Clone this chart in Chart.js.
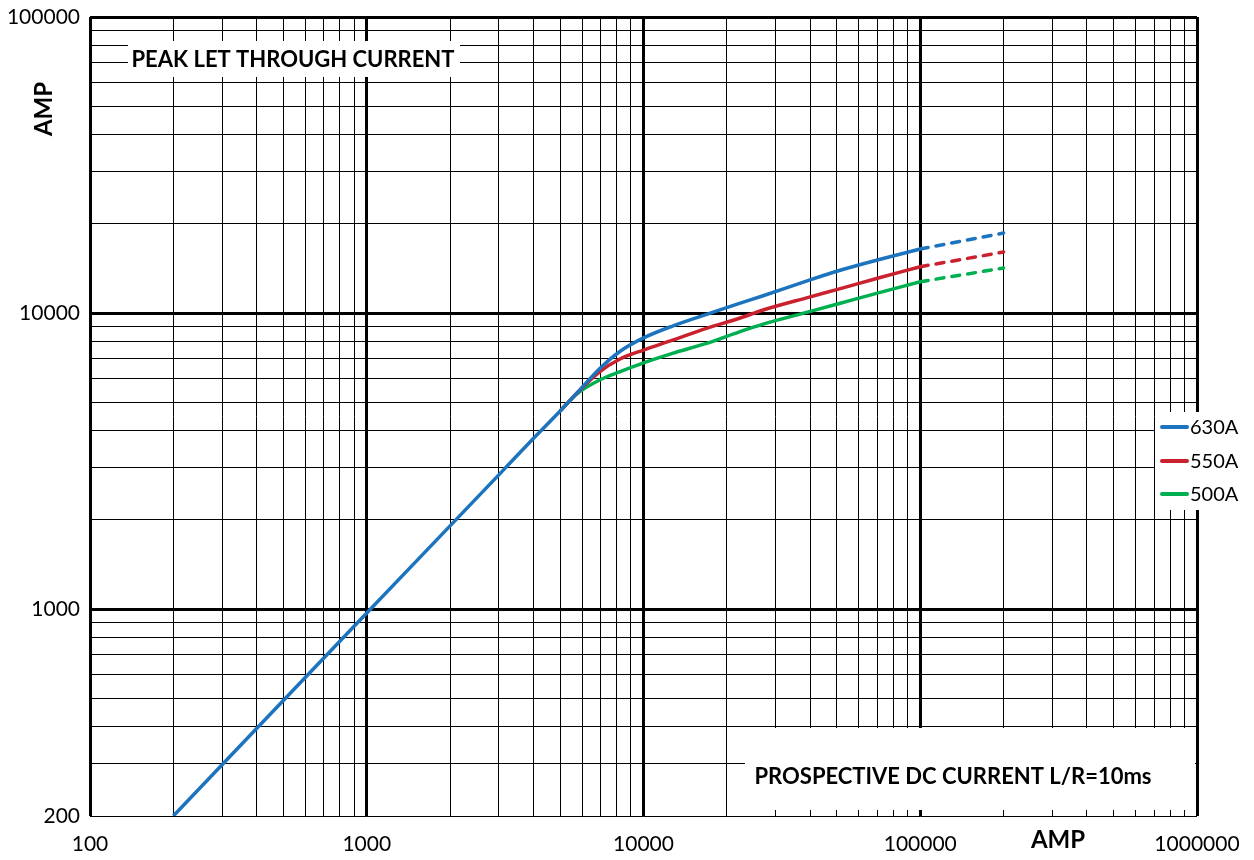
<!DOCTYPE html>
<html><head><meta charset="utf-8">
<script src="https://cdn.jsdelivr.net/npm/chart.js@4/dist/chart.umd.min.js"></script>
<style>html,body{margin:0;padding:0;background:#fff;}#wrap{width:1254px;height:860px;position:relative}</style>
</head><body><div id="wrap"><canvas id="c" width="1254" height="860"></canvas></div>
<script>
// ---- data ----
const xDecades = [100, 1000, 10000, 100000];
const yDecades = [100, 1000, 10000];
const multipliers = [1, 2, 3, 4, 5, 6, 7, 8, 9];
const xTickLabels = ['100', '1000', '10000', '100000', '1000000'];
const yTickLabels = ['200', '1000', '10000', '100000'];
const seriesNames = ['630A', '550A', '500A'];

const blueX = [200, 1000, 2000, 3000, 4000, 5000, 5875, 6940, 8190, 10000, 12730, 17750, 22220, 26890, 39750, 51020, 71110, 100000];
const blueY = [200, 970, 1910, 2840, 3770, 4670, 5490, 6480, 7400, 8240, 9040, 10050, 10780, 11420, 12920, 13920, 15160, 16450];
const redX = [5000, 5800, 6940, 8190, 10000, 12730, 16880, 22220, 26890, 39750, 51020, 71110, 100000];
const redY = [4670, 5410, 6330, 6980, 7500, 8100, 8880, 9600, 10220, 11320, 12070, 13160, 14340];
const greenX = [5000, 5780, 6940, 8190, 10000, 12730, 16880, 22220, 26890, 39750, 51020, 71110, 100000];
const greenY = [4670, 5355, 5940, 6330, 6790, 7310, 7900, 8640, 9160, 10110, 10770, 11720, 12760];
const dashX = [100000, 200000];
const blueDashY = [16450, 18630];
const redDashY = [14340, 16070];
const greenDashY = [12760, 14190];

const seriesColors = ['#1c74bf', '#c9212d', '#00b050'];
const FONT = 'Lato, "Open Sans", sans-serif';

// ---- helpers ----
const pts = (xs, ys) => xs.map((x, i) => ({x, y: ys[i]}));
const xTickValues = xDecades.flatMap(d => multipliers.map(m => d * m)).concat([1000000]);
const yTickValues = yDecades.flatMap(d => multipliers.map(m => d * m)).concat([100000]).filter(v => v >= 200);
const isDecade = v => Math.abs(Math.log10(v) - Math.round(Math.log10(v))) < 1e-9;

function solid(data, color, name) {
  return {label: name, data, borderColor: color, backgroundColor: color, borderWidth: 3.5,
    pointRadius: 0, showLine: true, fill: false, cubicInterpolationMode: 'monotone'};
}
function dashed(data, color) {
  return {label: '', data, borderColor: color, borderWidth: 3.5, pointRadius: 0, showLine: true,
    fill: false, borderDash: [8, 8], borderCapStyle: 'round'};
}

function fitFont(ctx, text, weight, target, start) {
  let s = start;
  ctx.font = weight + ' ' + s + 'px ' + FONT;
  while (ctx.measureText(text).width > target && s > 8) { s -= 0.5; ctx.font = weight + ' ' + s + 'px ' + FONT; }
  return s;
}

const annot = {
  id: 'annot',
  beforeDatasetsDraw(chart) {
    const c = chart.ctx;
    c.save();
    c.fillStyle = '#fff';
    c.fillRect(128, 41, 332, 36);      // title box
    c.fillRect(745, 728, 450, 82);     // bottom caption box
    c.fillRect(1155, 412, 99, 98);     // legend box
    c.restore();
  },
  afterDatasetsDraw(chart) {
    const c = chart.ctx;
    c.save();
    c.fillStyle = '#000';
    c.textBaseline = 'middle';
    c.textAlign = 'center';
    fitFont(c, 'PEAK LET THROUGH CURRENT', 'bold', 326, 26);
    c.fillText('PEAK LET THROUGH CURRENT', 293, 60);
    fitFont(c, 'PROSPECTIVE DC CURRENT L/R=10ms', 'bold', 398, 26);
    c.fillText('PROSPECTIVE DC CURRENT L/R=10ms', 953, 777);
    c.font = 'bold 24px ' + FONT;
    c.fillText('AMP', 1058, 840);
    c.save();
    c.translate(44, 109);
    c.rotate(-Math.PI / 2);
    c.fillText('AMP', 0, 0);
    c.restore();
    // legend
    const ly = [427, 461, 494];
    c.textAlign = 'left';
    c.font = '20px ' + FONT;
    seriesNames.forEach((n, i) => {
      c.strokeStyle = seriesColors[i];
      c.lineWidth = 4;
      c.lineCap = 'round';
      c.beginPath(); c.moveTo(1162, ly[i]); c.lineTo(1187, ly[i]); c.stroke();
      c.fillStyle = '#000';
      c.fillText(n, 1190, ly[i] + 1);
    });
    c.restore();
  }
};

const gridCol = ctx => '#000';
const gridW = ctx => (ctx.tick && isDecade(ctx.tick.value)) ? 3 : 1;

new Chart(document.getElementById('c'), {
  type: 'scatter',
  data: {
    datasets: [
      solid(pts(blueX, blueY), seriesColors[0], seriesNames[0]),
      solid(pts(redX, redY), seriesColors[1], seriesNames[1]),
      solid(pts(greenX, greenY), seriesColors[2], seriesNames[2]),
      dashed(pts(dashX, blueDashY), seriesColors[0]),
      dashed(pts(dashX, redDashY), seriesColors[1]),
      dashed(pts(dashX, greenDashY), seriesColors[2])
    ]
  },
  options: {
    responsive: false, animation: false, devicePixelRatio: 1,
    layout: {padding: {top: 17, right: 57, left: 0, bottom: 0}},
    plugins: {legend: {display: false}, tooltip: {enabled: false}},
    scales: {
      x: {
        type: 'logarithmic', min: 100, max: 1000000,
        afterBuildTicks: s => { s.ticks = xTickValues.map(v => ({value: v})); },
        afterFit: s => { s.height = 44; s.paddingLeft = 0; s.paddingRight = 0; },
        border: {display: false},
        grid: {color: gridCol, lineWidth: gridW, drawTicks: false},
        ticks: {autoSkip: false, maxRotation: 0, minRotation: 0, padding: 16, color: '#000',
          font: {family: FONT, size: 21},
          callback: v => xTickLabels.includes(String(v)) ? String(v) : ''}
      },
      y: {
        type: 'logarithmic', min: 200, max: 100000,
        afterBuildTicks: s => { s.ticks = yTickValues.map(v => ({value: v})); },
        afterFit: s => { s.width = 90; s.paddingTop = 0; s.paddingBottom = 0; },
        border: {display: false},
        grid: {color: gridCol, lineWidth: gridW, drawTicks: false},
        ticks: {autoSkip: false, padding: 10, color: '#000',
          font: {family: FONT, size: 21},
          callback: v => yTickLabels.includes(String(v)) ? String(v) : ''}
      }
    }
  },
  plugins: [annot]
});
</script></body></html>
